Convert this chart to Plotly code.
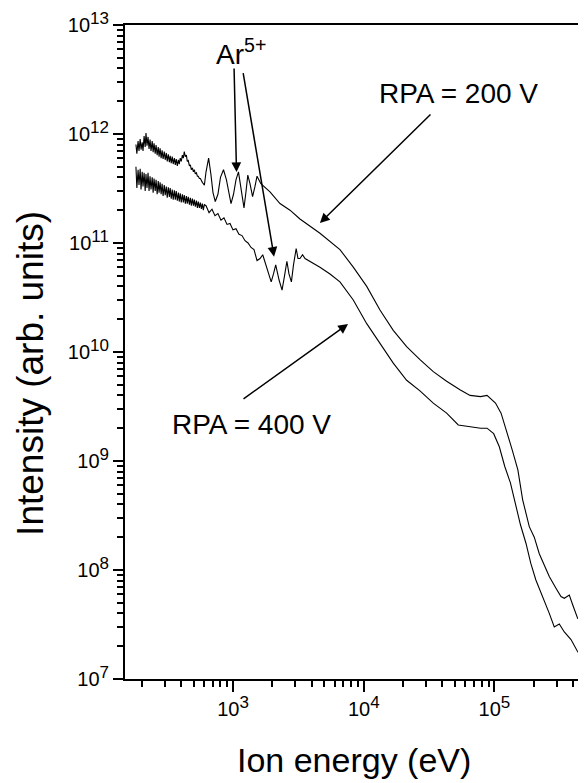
import plotly.graph_objects as go

# Low-energy (noisy) part: energies in eV shared by both spectra
energy_low = [181, 184, 188, 191, 195, 198, 202, 205, 209, 213, 216, 220, 224, 228, 232, 236,
              241, 245, 249, 254, 258, 263, 268, 272, 277, 282, 287, 292, 298, 303, 309, 314,
              320, 326, 331, 337, 343, 349, 356, 362, 368, 375, 382, 388, 395, 402, 410, 417,
              424, 432, 440, 447, 455, 464, 472, 480, 489, 498, 506, 515, 525, 534, 543, 553,
              563, 573, 583, 593, 604]

# RPA = 200 V  (energy in eV, intensity in arb. units)
intensity_200_low = [8.0e11, 6.6e11, 8.6e11, 7.0e11, 9.0e11, 7.2e11, 8.4e11, 7.0e11, 9.6e11, 7.6e11,
                     1.02e12, 7.8e11, 9.4e11, 7.3e11, 8.9e11, 7.0e11, 8.6e11, 6.8e11, 8.2e11, 6.6e11,
                     7.9e11, 6.4e11, 7.6e11, 6.2e11, 7.4e11, 6.0e11, 7.1e11, 5.9e11, 6.9e11, 5.8e11,
                     6.7e11, 5.6e11, 6.5e11, 5.5e11, 6.3e11, 5.4e11, 6.2e11, 5.3e11, 6.0e11, 5.2e11,
                     5.9e11, 5.1e11, 5.8e11, 5.3e11, 6.0e11, 5.6e11, 6.4e11, 6.0e11, 6.9e11, 6.2e11,
                     6.4e11, 5.6e11, 5.7e11, 5.1e11, 5.2e11, 4.7e11, 4.9e11, 4.5e11, 4.7e11, 4.3e11,
                     4.4e11, 4.1e11, 4.1e11, 3.9e11, 3.9e11, 3.7e11, 3.6e11, 3.5e11, 3.4e11]
energy_200_high = [622, 651, 679, 703, 732, 767, 802, 846, 891, 931, 966, 1009, 1054, 1101, 1151,
                   1214, 1257, 1298, 1349, 1412, 1473, 1527, 1633, 1919, 2287, 2729, 3253, 4625,
                   6577, 8318, 10540, 13310, 16820, 21290, 26920, 34040, 43060, 54450, 65010, 78300,
                   87700, 92500, 101800, 112300, 123900, 136800, 151000, 164300, 184600, 201500,
                   220100, 262500, 295300, 322600, 342000, 373500, 396300, 432700, 472800, 519000]
intensity_200_high = [4.5e11, 6.0e11, 4.2e11, 2.9e11, 2.4e11, 2.8e11, 4.0e11, 4.7e11, 3.8e11, 2.75e11,
                      2.3e11, 2.8e11, 3.8e11, 4.5e11, 3.3e11, 2.1e11, 2.95e11, 4.2e11, 3.5e11, 2.66e11,
                      3.3e11, 4.1e11, 3.5e11, 2.95e11, 2.3e11, 2.0e11, 1.66e11, 1.23e11, 8.7e10,
                      6.0e10, 4.0e10, 2.43e10, 1.58e10, 1.12e10, 8.5e9, 6.6e9, 5.4e9, 4.5e9, 4.0e9,
                      3.9e9, 4.0e9, 3.8e9, 3.4e9, 2.75e9, 1.9e9, 1.26e9, 8.3e8, 4.4e8, 2.5e8, 2.0e8,
                      1.41e8, 8.7e7, 6.8e7, 5.7e7, 5.5e7, 5.9e7, 4.8e7, 3.6e7, 3.4e7, 3.3e7]

# RPA = 400 V
intensity_400_low = [5.0e11, 3.2e11, 4.7e11, 3.4e11, 4.8e11, 3.1e11, 4.5e11, 3.3e11, 4.4e11, 3.0e11,
                     4.3e11, 3.2e11, 4.4e11, 3.0e11, 4.1e11, 3.1e11, 4.0e11, 2.9e11, 3.9e11, 3.0e11,
                     3.8e11, 2.8e11, 3.7e11, 2.9e11, 3.6e11, 2.8e11, 3.5e11, 2.7e11, 3.4e11, 2.75e11,
                     3.3e11, 2.6e11, 3.25e11, 2.65e11, 3.2e11, 2.55e11, 3.1e11, 2.5e11, 3.05e11, 2.5e11,
                     3.0e11, 2.45e11, 2.9e11, 2.4e11, 2.85e11, 2.35e11, 2.8e11, 2.35e11, 2.75e11, 2.3e11,
                     2.7e11, 2.3e11, 2.65e11, 2.25e11, 2.6e11, 2.2e11, 2.55e11, 2.2e11, 2.5e11, 2.15e11,
                     2.45e11, 2.1e11, 2.4e11, 2.1e11, 2.35e11, 2.05e11, 2.3e11, 2.0e11, 2.25e11]
energy_400_high = [622, 656, 691, 728, 767, 809, 853, 900, 949, 1000, 1054, 1111, 1172, 1236, 1303,
                   1374, 1448, 1527, 1611, 1688, 1811, 1960, 2040, 2122, 2249, 2372, 2478, 2584,
                   2680, 2797, 2902, 3043, 3141, 3253, 3405, 3556, 4625, 5520, 6577, 8318, 10540,
                   13310, 16820, 21290, 26920, 34040, 43060, 52840, 64300, 78300, 87700, 98600,
                   108900, 119900, 132400, 146000, 158000, 174100, 189600, 207300, 233700, 262500,
                   286600, 313100, 342000, 384900, 432700, 501200, 519000]
intensity_400_high = [2.2e11, 1.9e11, 2.04e11, 1.78e11, 1.86e11, 1.62e11, 1.7e11, 1.48e11, 1.51e11,
                      1.32e11, 1.35e11, 1.2e11, 1.17e11, 1.05e11, 1.0e11, 9.1e10, 8.7e10, 6.9e10,
                      7.2e10, 7.8e10, 6.0e10, 4.4e10, 5.2e10, 6.3e10, 4.6e10, 3.7e10, 5.0e10, 6.8e10,
                      5.2e10, 4.4e10, 6.3e10, 8.9e10, 7.2e10, 7.2e10, 7.8e10, 7.2e10, 6.0e10, 5.2e10,
                      4.4e10, 3.0e10, 1.82e10, 1.2e10, 7.9e9, 5.5e9, 4.4e9, 3.4e9, 2.75e9, 2.14e9,
                      2.07e9, 2.0e9, 2.0e9, 1.78e9, 1.35e9, 8.9e8, 6.3e8, 3.8e8, 2.6e8, 1.76e8,
                      1.15e8, 8.1e7, 5.7e7, 4.0e7, 3.0e7, 3.2e7, 2.7e7, 2.3e7, 1.78e7, 1.55e7, 1.5e7]

x_tick_vals = [1e3, 1e4, 1e5]
x_tick_exps = ["3", "4", "5"]
y_tick_vals = [1e7, 1e8, 1e9, 1e10, 1e11, 1e12, 1e13]
y_tick_exps = ["7", "8", "9", "10", "11", "12", "13"]

FONT = "Liberation Sans, Arial, Helvetica, sans-serif"


def power_label(exp):
    return "10<sup><span style='font-size:17px'>" + exp + "</span></sup>"


fig = go.Figure()
fig.add_trace(go.Scatter(x=energy_low + energy_200_high, y=intensity_200_low + intensity_200_high,
                         mode="lines", line=dict(color="black", width=1.1), name="RPA = 200 V"))
fig.add_trace(go.Scatter(x=energy_low + energy_400_high, y=intensity_400_low + intensity_400_high,
                         mode="lines", line=dict(color="black", width=1.1), name="RPA = 400 V"))

# annotations positioned in log10 data units
text_style = dict(showarrow=False, font=dict(size=28, color="black", family=FONT),
                  xref="x", yref="y")
fig.add_annotation(x=4.725, y=12.376, text="RPA = 200 V", **text_style)
fig.add_annotation(x=3.141, y=9.339, text="RPA = 400 V", **text_style)
fig.add_annotation(x=3.061, y=12.752, text="Ar<sup>5+</sup>", **text_style)

arrow_style = dict(showarrow=True, arrowhead=2, arrowsize=1.3, arrowwidth=1.5,
                   arrowcolor="black", xref="x", yref="y", axref="x", ayref="y", text="")
fig.add_annotation(x=3.665, y=11.183, ax=4.522, ay=12.193, **arrow_style)
fig.add_annotation(x=3.880, y=10.257, ax=3.069, ay=9.560, **arrow_style)
fig.add_annotation(x=3.027, y=11.651, ax=3.008, ay=12.615, **arrow_style)
fig.add_annotation(x=3.314, y=10.874, ax=3.076, ay=12.572, **arrow_style)

# axis titles
fig.add_annotation(xref="paper", yref="paper", x=-0.204, y=0.468, text="Intensity (arb. units)",
                   textangle=-90, showarrow=False, xanchor="center", yanchor="middle",
                   font=dict(size=37, color="black", family=FONT))
fig.add_annotation(xref="paper", yref="paper", x=0.497, y=-0.156, text="Ion energy (eV)",
                   showarrow=False, xanchor="center", yanchor="bottom",
                   font=dict(size=34, color="black", family=FONT))

fig.update_xaxes(type="log", range=[2.174, 5.70], showgrid=False, zeroline=False,
                 showline=True, linecolor="black", linewidth=2, mirror=True,
                 ticks="outside", ticklen=11, tickwidth=2, tickcolor="black",
                 tickvals=x_tick_vals, ticktext=[power_label(e) for e in x_tick_exps],
                 tickfont=dict(size=20, color="black", family=FONT),
                 minor=dict(ticks="outside", ticklen=6, tickwidth=1.5, tickcolor="black",
                            dtick="D1", showgrid=False))
fig.update_yaxes(type="log", range=[7, 13], showgrid=False, zeroline=False,
                 showline=True, linecolor="black", linewidth=2, mirror=False,
                 ticks="outside", ticklen=10, tickwidth=2, tickcolor="black",
                 tickvals=y_tick_vals, ticktext=[power_label(e) for e in y_tick_exps],
                 tickfont=dict(size=20, color="black", family=FONT),
                 minor=dict(ticks="outside", ticklen=6, tickwidth=1.5, tickcolor="black",
                            dtick="D1", showgrid=False))

# the page body keeps its default 8 px margin, so the figure is 8 px smaller each way
fig.update_layout(width=578, height=775, margin=dict(l=117, r=0, t=17, b=104),
                  plot_bgcolor="white", paper_bgcolor="white", showlegend=False,
                  font=dict(family=FONT, color="black"))

fig.write_html("out.html")
